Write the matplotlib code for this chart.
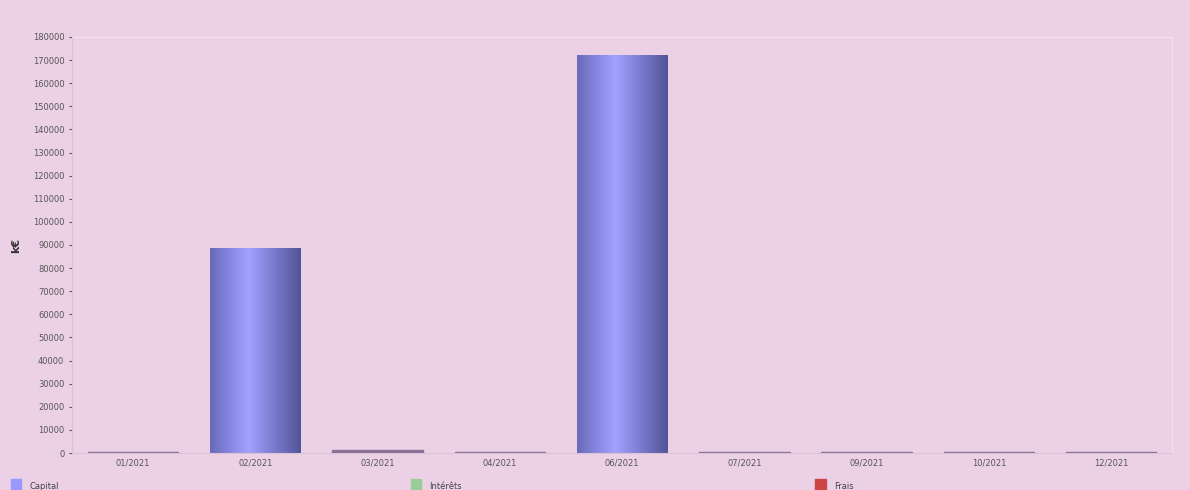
import numpy as np
import matplotlib.pyplot as plt
from matplotlib.colors import LinearSegmentedColormap
from matplotlib.patches import Rectangle

# montants mensuels (k€)
mois = ['01/2021', '02/2021', '03/2021', '04/2021', '06/2021',
        '07/2021', '09/2021', '10/2021', '12/2021']
capital = [600, 88500, 1200, 500, 172000, 500, 500, 500, 500]
interets = [0, 0, 0, 0, 0, 0, 0, 0, 0]
frais = [0, 0, 0, 0, 0, 0, 0, 0, 0]

fond = '#ecd1e6'
bleu = '#9999ff'

fig = plt.figure(figsize=(11.9, 4.9), dpi=100, facecolor=fond)
ax = fig.add_axes([0.0605, 0.0755, 0.9245, 0.849])
ax.set_facecolor(fond)

# degrade "cylindre" pour les barres
cmap = LinearSegmentedColormap.from_list('cyl', [
    (0.0, '#6a6ab8'), (0.2, '#8585e0'), (0.42, '#a2a2ff'),
    (0.7, '#7c7cd0'), (1.0, '#54549a')])
grad = np.linspace(0, 1, 64).reshape(1, -1)

x = np.arange(len(mois))
largeur = 0.74
barres = ax.bar(x, capital, largeur, color=bleu, edgecolor='none')
for b, v in zip(barres, capital):
    x0 = b.get_x()
    if v < 5000:
        b.set_color('#8a6f96')
        continue
    im = ax.imshow(grad, cmap=cmap, aspect='auto',
                   extent=[x0, x0 + largeur, 0, v], zorder=2)
    im.set_clip_path(b)
ax.bar(x, interets, largeur, bottom=capital, color='#99cc99')
ax.bar(x, frais, largeur, bottom=np.add(capital, interets), color='#cc4444')

ax.set_xlim(-0.5, len(mois) - 0.5)
ax.set_ylim(0, 180000)
ax.set_yticks(np.arange(0, 180001, 10000))
ax.set_xticks(x)
ax.set_xticklabels(mois)
ax.tick_params(axis='both', labelsize=6, colors='#555555', length=2)
ax.tick_params(axis='x', length=0, pad=4)
ax.set_ylabel('k€', fontsize=8, fontweight='bold', color='#333333', labelpad=8)

for s in ['top', 'right']:
    ax.spines[s].set_color('#f2e2ee')
for s in ['left', 'bottom']:
    ax.spines[s].set_color('#d9c2d4')

# legende en bas
for xl, nom, c in [(0.009, 'Capital', bleu), (0.345, 'Intérêts', '#99cc99'),
                   (0.685, 'Frais', '#cc4444')]:
    fig.patches.append(Rectangle((xl, 0.0), 0.009, 0.022, color=c,
                                 transform=fig.transFigure))
    fig.text(xl + 0.016, 0.002, nom, fontsize=6, color='#444444')

fig.savefig('out.png', facecolor=fond)
